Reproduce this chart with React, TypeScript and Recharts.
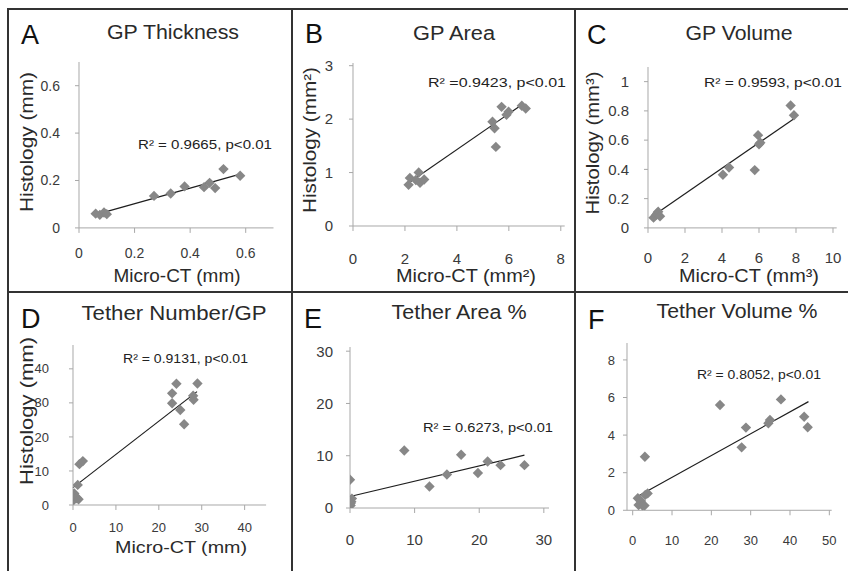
import { ScatterChart, Scatter, XAxis, YAxis, ReferenceLine } from 'recharts';

// A: GP thickness (mm)
const thickX = [0.06, 0.075, 0.09, 0.1, 0.27, 0.33, 0.38, 0.45, 0.47, 0.49, 0.52, 0.58];
const thickY = [0.06, 0.055, 0.065, 0.058, 0.135, 0.145, 0.175, 0.172, 0.19, 0.168, 0.248, 0.22];
const thickFitX = [0.05, 0.58];
const thickFitY = [0.053, 0.227];

// B: GP area (mm2)
const areaX = [2.14, 2.19, 2.42, 2.53, 2.58, 2.74, 5.37, 5.45, 5.5, 5.72, 5.91, 5.99, 6.5, 6.65];
const areaY = [0.77, 0.9, 0.86, 1.0, 0.81, 0.87, 1.95, 1.83, 1.48, 2.23, 2.08, 2.14, 2.25, 2.2];
const areaFitX = [2.04, 6.53];
const areaFitY = [0.77, 2.28];

// C: GP volume (mm3)
const volX = [0.3, 0.45, 0.5, 0.55, 0.65, 4.05, 4.38, 5.77, 5.95, 6.0, 6.07, 7.71, 7.89];
const volY = [0.07, 0.09, 0.1, 0.11, 0.08, 0.363, 0.413, 0.395, 0.634, 0.571, 0.582, 0.837, 0.77];
const volFitX = [0.18, 7.93];
const volFitY = [0.075, 0.75];

// D: tether number / GP
const numX = [0.2, 0.3, 0.5, 0.9, 1.3, 1.1, 1.5, 2.3, 23.1, 23.1, 24.1, 25.0, 25.9, 28.0, 28.1, 29.0];
const numY = [1.5, 3.4, 2.6, 2.0, 1.7, 5.9, 12.0, 12.9, 32.8, 29.9, 35.6, 27.9, 23.7, 32.1, 30.9, 35.7];
const numFitX = [0, 28.9];
const numFitY = [5.1, 33.3];

// E: tether area %
const tAreaX = [0, 0.1, 0.2, 0.3, 0.1, 8.4, 12.3, 15.0, 17.2, 19.8, 21.3, 23.3, 27.0];
const tAreaY = [5.4, 0.5, 1.2, 1.8, 0.9, 11.0, 4.1, 6.4, 10.2, 6.7, 8.9, 8.2, 8.2];
const tAreaFitX = [0, 27];
const tAreaFitY = [2.2, 10.1];

// F: tether volume %
const tVolX = [1.3, 1.5, 2.1, 2.5, 3.0, 3.2, 3.8, 3.1, 22.2, 27.7, 28.8, 34.5, 34.9, 37.7, 43.6, 44.5];
const tVolY = [0.64, 0.28, 0.5, 0.25, 0.25, 0.82, 0.9, 2.85, 5.6, 3.35, 4.4, 4.63, 4.8, 5.9, 4.98, 4.42];
const tVolFitX = [0.4, 44.7];
const tVolFitY = [0.64, 5.78];

const FONT = '"Liberation Sans", Arial, sans-serif';
const YW = 60;
const XH = 45;
const MT = 6;
const MR = 6;

function Diamond(props: any) {
  const { cx, cy } = props;
  if (cx == null || cy == null) return null;
  const r = 5.2;
  return <path d={`M${cx} ${cy - r}L${cx + r} ${cy}L${cx} ${cy + r}L${cx - r} ${cy}Z`} fill="#878787" />;
}

interface PanelProps {
  xs: number[];
  ys: number[];
  fitX: number[];
  fitY: number[];
  xDomain: [number, number];
  yDomain: [number, number];
  xTicks: number[];
  yTicks: number[];
  plot: { left: number; right: number; top: number; bottom: number };
  fontSize: number;
  xGap: number;
  yGap: number;
}

function Panel(p: PanelProps) {
  const data = p.xs.map((x, i) => ({ x, y: p.ys[i] }));
  const w = p.plot.right - p.plot.left + YW + MR;
  const h = p.plot.bottom - p.plot.top + MT + XH;
  const tick = { fontSize: p.fontSize, fill: '#3a3a3a', fontFamily: FONT };
  return (
    <div style={{ position: 'absolute', left: p.plot.left - YW, top: p.plot.top - MT, width: w, height: h }}>
      <ScatterChart width={w} height={h} margin={{ top: MT, right: MR, bottom: 0, left: 0 }}>
        <XAxis type="number" dataKey="x" domain={p.xDomain} ticks={p.xTicks} interval={0} height={XH}
          stroke="#a8a8a8" tickSize={5} tickMargin={p.xGap} tick={tick} allowDataOverflow />
        <YAxis type="number" dataKey="y" domain={p.yDomain} ticks={p.yTicks} interval={0} width={YW}
          stroke="#a8a8a8" tickSize={4} tickMargin={p.yGap} tick={tick} allowDataOverflow />
        <Scatter data={data} shape={<Diamond />} isAnimationActive={false} />
        <ReferenceLine segment={[{ x: p.fitX[0], y: p.fitY[0] }, { x: p.fitX[1], y: p.fitY[1] }]}
          stroke="#1e1e1e" strokeWidth={1.2} />
      </ScatterChart>
    </div>
  );
}

const titleStyle = { fontFamily: FONT, fontSize: 20, fill: '#2a2a2a' };
const letterStyle = { fontFamily: FONT, fontSize: 27, fill: '#111' };
const r2Style = { fontFamily: FONT, fontSize: 13, fill: '#222' };
const axisStyle = { fontFamily: FONT, fontSize: 18, fill: '#2a2a2a' };

export default function App() {
  return (
    <div style={{ position: 'absolute', left: 0, top: 0, width: 848, height: 571, background: '#fff', overflow: 'hidden' }}>
      <Panel xs={thickX} ys={thickY} fitX={thickFitX} fitY={thickFitY}
        xDomain={[0, 0.7]} yDomain={[0, 0.7]} xTicks={[0, 0.2, 0.4, 0.6]} yTicks={[0, 0.2, 0.4, 0.6]}
        plot={{ left: 79, right: 273.5, top: 62.4, bottom: 228.3 }} fontSize={14} xGap={15} yGap={15} />
      <Panel xs={areaX} ys={areaY} fitX={areaFitX} fitY={areaFitY}
        xDomain={[0, 8.15]} yDomain={[0, 3.05]} xTicks={[0, 2, 4, 6, 8]} yTicks={[0, 1, 2, 3]}
        plot={{ left: 353.3, right: 565, top: 63, bottom: 226 }} fontSize={15} xGap={22} yGap={16} />
      <Panel xs={volX} ys={volY} fitX={volFitX} fitY={volFitY}
        xDomain={[0, 10.2]} yDomain={[0, 1.1]} xTicks={[0, 2, 4, 6, 8, 10]} yTicks={[0, 0.2, 0.4, 0.6, 0.8, 1]}
        plot={{ left: 647.7, right: 836.4, top: 66.7, bottom: 227.6 }} fontSize={15} xGap={19} yGap={15} />
      <Panel xs={numX} ys={numY} fitX={numFitX} fitY={numFitY}
        xDomain={[0, 45]} yDomain={[0, 47]} xTicks={[0, 10, 20, 30, 40]} yTicks={[0, 10, 20, 30, 40]}
        plot={{ left: 72.7, right: 265.8, top: 345, bottom: 505 }} fontSize={13} xGap={13} yGap={20} />
      <Panel xs={tAreaX} ys={tAreaY} fitX={tAreaFitX} fitY={tAreaFitY}
        xDomain={[0, 30.8]} yDomain={[0, 30.8]} xTicks={[0, 10, 20, 30]} yTicks={[0, 10, 20, 30]}
        plot={{ left: 349.7, right: 548.7, top: 346.7, bottom: 507.7 }} fontSize={15} xGap={21} yGap={13} />
      <Panel xs={tVolX} ys={tVolY} fitX={tVolFitX} fitY={tVolFitY}
        xDomain={[-1.45, 50.6]} yDomain={[0, 8.9]} xTicks={[0, 10, 20, 30, 40, 50]} yTicks={[0, 2, 4, 6, 8]}
        plot={{ left: 627, right: 831.7, top: 343, bottom: 510.3 }} fontSize={13} xGap={20} yGap={8} />

      <svg width={848} height={571} style={{ position: 'absolute', left: 0, top: 0, pointerEvents: 'none' }}>
        <g stroke="#333" strokeWidth={2}>
          <line x1={7} y1={9} x2={848} y2={9} />
          <line x1={8} y1={8} x2={8} y2={571} />
          <line x1={292} y1={8} x2={292} y2={571} />
          <line x1={575} y1={8} x2={575} y2={571} />
          <line x1={8} y1={292} x2={848} y2={292} />
        </g>

        <text x={21} y={44} style={letterStyle}>A</text>
        <text x={305} y={43} style={letterStyle}>B</text>
        <text x={587} y={44} style={letterStyle}>C</text>
        <text x={21} y={328} style={letterStyle}>D</text>
        <text x={304} y={328} style={letterStyle}>E</text>
        <text x={588} y={329} style={letterStyle}>F</text>

        <text x={173} y={39} textAnchor="middle" textLength={132} lengthAdjust="spacingAndGlyphs" style={titleStyle}>GP Thickness</text>
        <text x={454} y={40} textAnchor="middle" textLength={82} lengthAdjust="spacingAndGlyphs" style={titleStyle}>GP Area</text>
        <text x={739} y={40} textAnchor="middle" textLength={107} lengthAdjust="spacingAndGlyphs" style={titleStyle}>GP Volume</text>
        <text x={174} y={320} textAnchor="middle" textLength={185} lengthAdjust="spacingAndGlyphs" style={titleStyle}>Tether Number/GP</text>
        <text x={459} y={319} textAnchor="middle" textLength={135} lengthAdjust="spacingAndGlyphs" style={titleStyle}>Tether Area %</text>
        <text x={737} y={318} textAnchor="middle" textLength={161} lengthAdjust="spacingAndGlyphs" style={titleStyle}>Tether Volume %</text>

        <text x={138} y={149} textLength={134} lengthAdjust="spacingAndGlyphs" style={r2Style}>R² = 0.9665, p&lt;0.01</text>
        <text x={428} y={87} textLength={138} lengthAdjust="spacingAndGlyphs" style={r2Style}>R² =0.9423, p&lt;0.01</text>
        <text x={704} y={87} textLength={138} lengthAdjust="spacingAndGlyphs" style={r2Style}>R² = 0.9593, p&lt;0.01</text>
        <text x={123} y={363} textLength={125} lengthAdjust="spacingAndGlyphs" style={r2Style}>R² = 0.9131, p&lt;0.01</text>
        <text x={423} y={432} textLength={130} lengthAdjust="spacingAndGlyphs" style={r2Style}>R² = 0.6273, p&lt;0.01</text>
        <text x={697} y={379} textLength={124} lengthAdjust="spacingAndGlyphs" style={r2Style}>R² = 0.8052, p&lt;0.01</text>

        <text x={177} y={282} textAnchor="middle" textLength={127} lengthAdjust="spacingAndGlyphs" style={axisStyle}>Micro-CT (mm)</text>
        <text x={466} y={282} textAnchor="middle" textLength={140} lengthAdjust="spacingAndGlyphs" style={axisStyle}>Micro-CT (mm²)</text>
        <text x={749} y={282} textAnchor="middle" textLength={140} lengthAdjust="spacingAndGlyphs" style={axisStyle}>Micro-CT (mm³)</text>
        <text x={181} y={553} textAnchor="middle" textLength={132} lengthAdjust="spacingAndGlyphs" style={{ ...axisStyle, fontSize: 16 }}>Micro-CT (mm)</text>

        <text x={32.5} y={142} transform="rotate(-90 32.5 142)" textAnchor="middle" textLength={140} lengthAdjust="spacingAndGlyphs" style={axisStyle}>Histology (mm)</text>
        <text x={316} y={140} transform="rotate(-90 316 140)" textAnchor="middle" textLength={146} lengthAdjust="spacingAndGlyphs" style={axisStyle}>Histology (mm²)</text>
        <text x={599} y={143} transform="rotate(-90 599 143)" textAnchor="middle" textLength={143} lengthAdjust="spacingAndGlyphs" style={axisStyle}>Histology (mm³)</text>
        <text x={33} y={411} transform="rotate(-90 33 411)" textAnchor="middle" textLength={148} lengthAdjust="spacingAndGlyphs" style={axisStyle}>Histology (mm)</text>
      </svg>
    </div>
  );
}
